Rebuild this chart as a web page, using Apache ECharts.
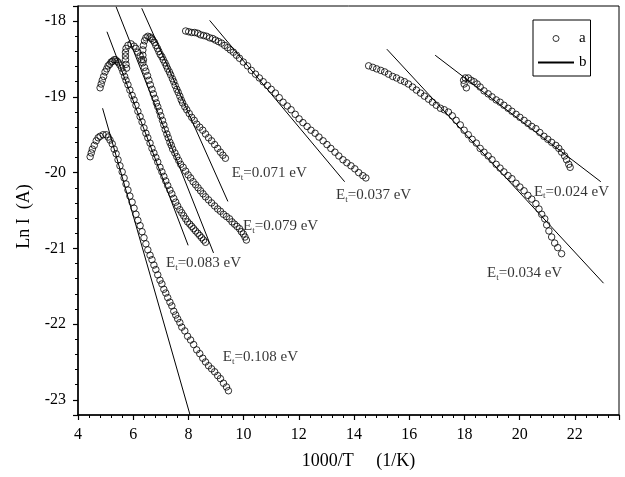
<!DOCTYPE html>
<html>
<head>
<meta charset="utf-8">
<script src="https://cdn.jsdelivr.net/npm/echarts@6/dist/echarts.min.js"></script>
<style>
  html, body { margin: 0; padding: 0; background: #fff; }
  #chart { width: 625px; height: 477px; }
</style>
</head>
<body>
<div id="chart"></div>
<script>
const curve108 = [[4.44,-19.79],[4.48,-19.74],[4.52,-19.69],[4.59,-19.64],[4.66,-19.58],[4.73,-19.54],[4.80,-19.52],[4.91,-19.50],[5.02,-19.50],[5.09,-19.53],[5.16,-19.57],[5.24,-19.62],[5.31,-19.69],[5.38,-19.75],[5.45,-19.83],[5.52,-19.91],[5.60,-19.99],[5.67,-20.07],[5.74,-20.15],[5.81,-20.23],[5.88,-20.31],[5.96,-20.39],[6.03,-20.47],[6.10,-20.55],[6.17,-20.63],[6.25,-20.70],[6.32,-20.78],[6.39,-20.86],[6.46,-20.94],[6.53,-21.02],[6.61,-21.09],[6.68,-21.15],[6.75,-21.22],[6.82,-21.28],[6.89,-21.35],[6.97,-21.42],[7.04,-21.47],[7.11,-21.54],[7.18,-21.59],[7.25,-21.65],[7.33,-21.71],[7.40,-21.76],[7.47,-21.83],[7.54,-21.88],[7.61,-21.93],[7.69,-21.98],[7.76,-22.04],[7.87,-22.09],[7.97,-22.16],[8.08,-22.21],[8.19,-22.27],[8.30,-22.34],[8.41,-22.39],[8.52,-22.45],[8.62,-22.50],[8.73,-22.55],[8.84,-22.59],[8.95,-22.63],[9.06,-22.68],[9.16,-22.72],[9.27,-22.78],[9.38,-22.83],[9.45,-22.88]]
const curve083 = [[4.80,-18.88],[4.84,-18.83],[4.88,-18.78],[4.93,-18.73],[4.98,-18.67],[5.04,-18.63],[5.09,-18.59],[5.15,-18.57],[5.20,-18.54],[5.25,-18.53],[5.31,-18.51],[5.36,-18.51],[5.42,-18.53],[5.47,-18.55],[5.52,-18.58],[5.58,-18.62],[5.63,-18.67],[5.69,-18.73],[5.74,-18.78],[5.81,-18.84],[5.88,-18.91],[5.96,-18.98],[6.03,-19.04],[6.10,-19.11],[6.17,-19.19],[6.25,-19.26],[6.32,-19.33],[6.39,-19.41],[6.46,-19.48],[6.53,-19.54],[6.61,-19.61],[6.68,-19.68],[6.75,-19.74],[6.82,-19.80],[6.89,-19.86],[6.97,-19.93],[7.04,-19.99],[7.11,-20.05],[7.18,-20.11],[7.25,-20.17],[7.33,-20.23],[7.40,-20.28],[7.47,-20.34],[7.54,-20.39],[7.61,-20.44],[7.69,-20.49],[7.76,-20.53],[7.83,-20.57],[7.90,-20.61],[7.97,-20.65],[8.05,-20.68],[8.12,-20.71],[8.19,-20.74],[8.26,-20.77],[8.34,-20.80],[8.41,-20.83],[8.48,-20.86],[8.55,-20.89],[8.62,-20.92]]
const curve079 = [[5.76,-18.62],[5.74,-18.57],[5.72,-18.51],[5.72,-18.46],[5.72,-18.41],[5.74,-18.36],[5.81,-18.32],[5.92,-18.30],[6.03,-18.33],[6.10,-18.36],[6.17,-18.41],[6.25,-18.46],[6.30,-18.51],[6.35,-18.55],[6.41,-18.61],[6.46,-18.66],[6.52,-18.72],[6.57,-18.78],[6.62,-18.84],[6.68,-18.90],[6.73,-18.96],[6.79,-19.02],[6.84,-19.08],[6.89,-19.13],[6.95,-19.19],[7.00,-19.25],[7.06,-19.31],[7.11,-19.37],[7.16,-19.43],[7.22,-19.49],[7.27,-19.54],[7.33,-19.60],[7.38,-19.64],[7.43,-19.69],[7.51,-19.74],[7.58,-19.79],[7.65,-19.84],[7.72,-19.89],[7.81,-19.93],[7.90,-19.98],[7.99,-20.03],[8.08,-20.07],[8.17,-20.12],[8.26,-20.16],[8.35,-20.20],[8.44,-20.24],[8.53,-20.28],[8.62,-20.32],[8.73,-20.36],[8.84,-20.40],[8.95,-20.44],[9.06,-20.48],[9.16,-20.51],[9.27,-20.55],[9.38,-20.58],[9.49,-20.61],[9.58,-20.65],[9.67,-20.68],[9.76,-20.71],[9.85,-20.74],[9.92,-20.78],[9.99,-20.81],[10.05,-20.85],[10.10,-20.89]]
const curve071 = [[6.37,-18.51],[6.35,-18.45],[6.35,-18.38],[6.37,-18.32],[6.41,-18.26],[6.46,-18.22],[6.53,-18.20],[6.61,-18.21],[6.66,-18.23],[6.71,-18.25],[6.77,-18.28],[6.82,-18.32],[6.88,-18.36],[6.93,-18.40],[6.98,-18.44],[7.04,-18.47],[7.09,-18.51],[7.15,-18.55],[7.20,-18.59],[7.25,-18.63],[7.31,-18.67],[7.36,-18.71],[7.42,-18.76],[7.47,-18.80],[7.52,-18.85],[7.58,-18.90],[7.63,-18.94],[7.69,-18.99],[7.74,-19.04],[7.79,-19.08],[7.87,-19.13],[7.94,-19.17],[8.03,-19.22],[8.12,-19.27],[8.21,-19.31],[8.30,-19.36],[8.41,-19.40],[8.52,-19.44],[8.62,-19.49],[8.73,-19.54],[8.84,-19.58],[8.95,-19.63],[9.06,-19.68],[9.16,-19.73],[9.25,-19.77],[9.34,-19.81]]
const curve037 = [[7.90,-18.13],[8.01,-18.14],[8.12,-18.15],[8.23,-18.15],[8.34,-18.16],[8.44,-18.18],[8.55,-18.19],[8.66,-18.20],[8.77,-18.22],[8.88,-18.23],[8.98,-18.25],[9.09,-18.27],[9.20,-18.29],[9.31,-18.32],[9.42,-18.35],[9.52,-18.38],[9.63,-18.41],[9.74,-18.45],[9.85,-18.49],[9.99,-18.54],[10.14,-18.59],[10.28,-18.65],[10.43,-18.70],[10.57,-18.75],[10.71,-18.80],[10.86,-18.85],[11.00,-18.90],[11.15,-18.95],[11.29,-19.01],[11.43,-19.07],[11.58,-19.12],[11.72,-19.17],[11.87,-19.23],[12.01,-19.29],[12.15,-19.34],[12.30,-19.39],[12.44,-19.44],[12.59,-19.48],[12.73,-19.53],[12.88,-19.58],[13.02,-19.63],[13.16,-19.68],[13.31,-19.73],[13.45,-19.78],[13.60,-19.83],[13.74,-19.87],[13.89,-19.91],[14.03,-19.95],[14.17,-20.00],[14.32,-20.04],[14.43,-20.07]]
const curve034 = [[14.53,-18.59],[14.68,-18.61],[14.82,-18.63],[14.97,-18.65],[15.11,-18.67],[15.25,-18.70],[15.40,-18.73],[15.54,-18.75],[15.69,-18.78],[15.83,-18.80],[15.97,-18.83],[16.12,-18.87],[16.26,-18.91],[16.41,-18.95],[16.55,-18.99],[16.70,-19.03],[16.84,-19.07],[16.98,-19.11],[17.13,-19.15],[17.27,-19.17],[17.42,-19.20],[17.56,-19.25],[17.70,-19.31],[17.85,-19.37],[17.99,-19.44],[18.14,-19.50],[18.28,-19.56],[18.43,-19.61],[18.57,-19.68],[18.71,-19.73],[18.86,-19.78],[19.00,-19.83],[19.15,-19.89],[19.29,-19.94],[19.43,-19.99],[19.58,-20.04],[19.72,-20.08],[19.87,-20.14],[20.01,-20.19],[20.16,-20.24],[20.30,-20.30],[20.44,-20.35],[20.59,-20.41],[20.70,-20.48],[20.80,-20.55],[20.91,-20.61],[20.98,-20.69],[21.06,-20.77],[21.16,-20.85],[21.27,-20.93],[21.38,-20.99],[21.52,-21.07]]
const curve024 = [[18.07,-18.88],[17.99,-18.83],[17.97,-18.78],[18.03,-18.75],[18.14,-18.75],[18.24,-18.78],[18.35,-18.80],[18.46,-18.83],[18.57,-18.87],[18.71,-18.92],[18.86,-18.96],[19.00,-19.00],[19.15,-19.04],[19.29,-19.07],[19.43,-19.11],[19.58,-19.15],[19.72,-19.19],[19.87,-19.23],[20.01,-19.27],[20.16,-19.31],[20.30,-19.35],[20.44,-19.39],[20.59,-19.42],[20.73,-19.47],[20.88,-19.52],[21.02,-19.56],[21.16,-19.60],[21.31,-19.64],[21.42,-19.68],[21.52,-19.73],[21.63,-19.78],[21.70,-19.83],[21.78,-19.89],[21.83,-19.93]]

// straight-line fits, start and end point of each
const fitLines = [
  [[4.89,-19.15],[8.06,-23.2]],
  [[5.05,-18.14],[7.99,-20.96]],
  [[5.38,-17.81],[8.91,-21.06]],
  [[6.31,-17.83],[9.43,-20.38]],
  [[8.77,-17.99],[13.66,-20.12]],
  [[15.19,-18.37],[23.04,-21.46]],
  [[16.94,-18.45],[22.94,-20.12]]
]

// trap energies and where their text starts
const energies = ['0.108', '0.083', '0.079', '0.071', '0.037', '0.034', '0.024']
const labelAt = [[9.23,-22.44],[7.17,-21.19],[9.96,-20.70],[9.55,-20.01],[13.33,-20.30],[18.80,-21.33],[20.50,-20.25]]

const serif = 'Liberation Serif, Times New Roman, serif'
const chart = echarts.init(document.getElementById('chart'))

const ring = { color: 'rgba(0,0,0,0)', borderColor: '#000', borderWidth: 1 }

const curves = [curve108, curve083, curve079, curve071, curve037, curve034, curve024]
const dotSeries = curves.map(d => ({
  name: 'a',
  type: 'scatter',
  data: d,
  symbol: 'circle',
  symbolSize: 6.5,
  silent: true,
  itemStyle: ring
}))
const fitSeries = fitLines.map(d => ({
  name: 'b',
  type: 'line',
  data: d,
  symbol: 'none',
  silent: true,
  itemStyle: { color: '#000' },
  lineStyle: { color: '#000', width: 1 }
}))
const textSeries = {
  type: 'scatter',
  symbolSize: 1,
  silent: true,
  itemStyle: { color: 'rgba(0,0,0,0)' },
  data: labelAt.map((p, i) => ({
    value: p,
    label: { formatter: '{e|E}{s|t}{e|=' + energies[i] + ' eV}' }
  })),
  label: {
    show: true,
    position: 'right',
    distance: 0,
    rich: {
      e: { fontFamily: serif, fontSize: 15, color: '#000' },
      s: { fontFamily: serif, fontSize: 9, color: '#000', padding: [9, 0, 0, 0] }
    }
  }
}

chart.setOption({
  animation: false,
  backgroundColor: '#fff',
  grid: { left: 78, right: 6, top: 6, bottom: 62, show: true, borderColor: '#000', borderWidth: 1 },
  legend: {
    orient: 'vertical',
    left: 533,
    top: 20,
    padding: [11, 4, 6, 4],
    itemGap: 9,
    itemWidth: 36,
    itemHeight: 6,
    borderColor: '#000',
    borderWidth: 1,
    textStyle: { fontFamily: serif, fontSize: 15, color: '#000' },
    data: [
      { name: 'a', icon: 'circle', itemStyle: ring },
      { name: 'b', itemStyle: { color: 'rgba(0,0,0,0)', borderWidth: 0 } }
    ]
  },
  xAxis: {
    type: 'value',
    min: 4,
    max: 23.6,
    interval: 2,
    name: '1000/T     (1/K)',
    nameLocation: 'middle',
    nameGap: 37,
    nameTextStyle: { fontFamily: serif, fontSize: 18, color: '#000', padding: [0, 0, 0, 20] },
    axisLine: { lineStyle: { color: '#000', width: 1.5 } },
    axisTick: { inside: false, length: 5, lineStyle: { color: '#000', width: 1.2 } },
    minorTick: { show: true, splitNumber: 5, length: 3, lineStyle: { color: '#000', width: 1 } },
    splitLine: { show: false },
    axisLabel: {
      margin: 12,
      fontFamily: serif,
      fontSize: 16,
      color: '#000',
      formatter: v => (Math.abs(v % 2) < 1e-6 ? String(v) : '')
    }
  },
  yAxis: {
    type: 'value',
    min: -23.2,
    max: -17.8,
    splitNumber: 5,
    name: 'Ln I  (A)',
    nameLocation: 'middle',
    nameGap: 45,
    nameTextStyle: { fontFamily: serif, fontSize: 18, color: '#000', padding: [0, 12, 0, 0] },
    axisLine: { lineStyle: { color: '#000', width: 1.5 } },
    axisTick: { inside: false, length: 5, lineStyle: { color: '#000', width: 1.2 } },
    minorTick: { show: true, splitNumber: 5, length: 3, lineStyle: { color: '#000', width: 1 } },
    splitLine: { show: false },
    axisLabel: {
      margin: 12,
      fontFamily: serif,
      fontSize: 16,
      color: '#000',
      formatter: v => (Math.abs(v - Math.round(v)) < 1e-6 ? String(v) : '')
    }
  },
  series: [...dotSeries, ...fitSeries, textSeries]
})
</script>
</body>
</html>
